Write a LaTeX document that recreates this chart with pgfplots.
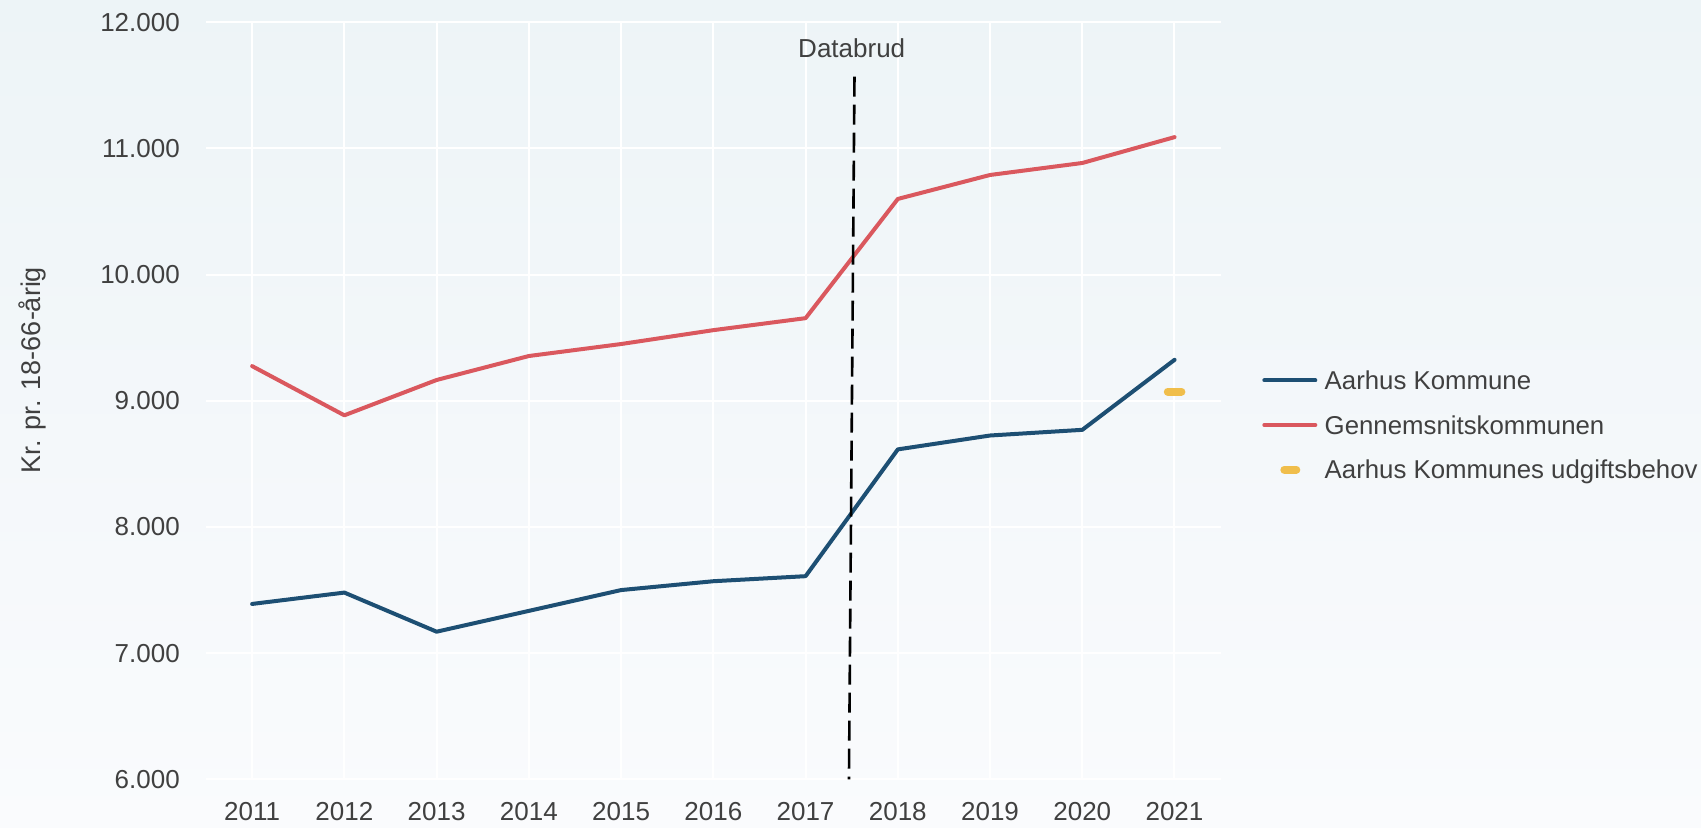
\documentclass[border=0pt]{standalone}
\usepackage{fontspec}
\setmainfont{Liberation Sans}
\usepackage{pgfplots}
\pgfplotsset{compat=1.18}
\definecolor{bgtop}{RGB}{237,244,247}
\definecolor{bgbot}{RGB}{250,251,253}
\definecolor{txt}{RGB}{64,64,64}
\definecolor{aarhus}{RGB}{29,79,115}
\definecolor{gns}{RGB}{218,88,94}
\definecolor{behov}{RGB}{240,190,75}
\begin{document}
\begin{tikzpicture}
\fill[top color=bgtop, bottom color=bgbot, draw=none] (-103pt,-23.85pt) rectangle (747.5pt,389.65pt);
\useasboundingbox (-103pt,-23.85pt) rectangle (747.5pt,389.65pt);
\begin{axis}[
  at={(0pt,0pt)}, anchor=south west,
  scale only axis, width=507.35pt, height=378.5pt,
  xmin=2010.5, xmax=2021.5, ymin=6000, ymax=12000,
  xtick={2011,2012,...,2021}, ytick={6000,7000,...,12000},
  grid=major, grid style={white, line width=1pt},
  axis line style={draw=none}, major tick length=0pt,
  tick label style={font=\fontsize{13}{15}\selectfont, text=txt},
  /pgf/number format/assume math mode=true,
  scaled y ticks=false,
  y tick label style={/pgf/number format/fixed, /pgf/number format/1000 sep={.}, inner sep=0pt, xshift=-12.9pt},
  x tick label style={/pgf/number format/1000 sep={}, inner sep=0pt, yshift=-11.2pt},
  legend cell align=left,
  legend style={draw=none, fill=none, inner sep=0pt, outer sep=0pt,
    at={(1.041,0.468)}, anchor=west,
    font=\fontsize{12.9}{15}\selectfont, text=txt,
    nodes={inner sep=0pt, text height=11pt, text depth=2pt},
    column sep=3.7pt, row sep=9.3pt},
  legend image code/.code={\path[draw=none] (-1pt,0pt) -- (26.5pt,0pt); \draw[#1, line width=2pt, line cap=round] (0pt,0pt) -- (25.5pt,0pt);},
]
\addplot[aarhus, line width=2pt, line cap=round, line join=round, mark=none] coordinates {
 (2011,7390) (2012,7480) (2013,7170) (2014,7335) (2015,7500) (2016,7570)
 (2017,7610) (2018,8615) (2019,8725) (2020,8770) (2021,9325)};
\addlegendentry{Aarhus Kommune}
\addplot[gns, line width=2pt, line cap=round, line join=round, mark=none] coordinates {
 (2011,9275) (2012,8885) (2013,9165) (2014,9355) (2015,9450) (2016,9560)
 (2017,9655) (2018,10600) (2019,10790) (2020,10885) (2021,11090)};
\addlegendentry{Gennemsnitskommunen}
\addplot[behov, only marks, mark=-, mark size=3.4pt, mark options={line width=4pt, line cap=round},
  legend image code/.code={\path[draw=none] (-1pt,0pt) -- (26.5pt,0pt); \draw[draw=behov, line width=4pt, line cap=round] (10pt,0pt) -- (16pt,0pt);}] coordinates {
 (2021,9073)};
\addlegendentry{Aarhus Kommunes udgiftsbehov}
\draw[black, line width=1.3pt, dash pattern=on 10pt off 4pt] (axis cs:2017.53,11569) -- (axis cs:2017.47,6000);
\node[text=txt, font=\fontsize{13}{15}\selectfont] at (axis cs:2017.5,11794) {Databrud};
\end{axis}
\node[rotate=90, anchor=base, text=txt, font=\fontsize{13.5}{15}\selectfont] at (-82.65pt,204.65pt) {Kr. pr. 18-66-årig};
\end{tikzpicture}
\end{document}
